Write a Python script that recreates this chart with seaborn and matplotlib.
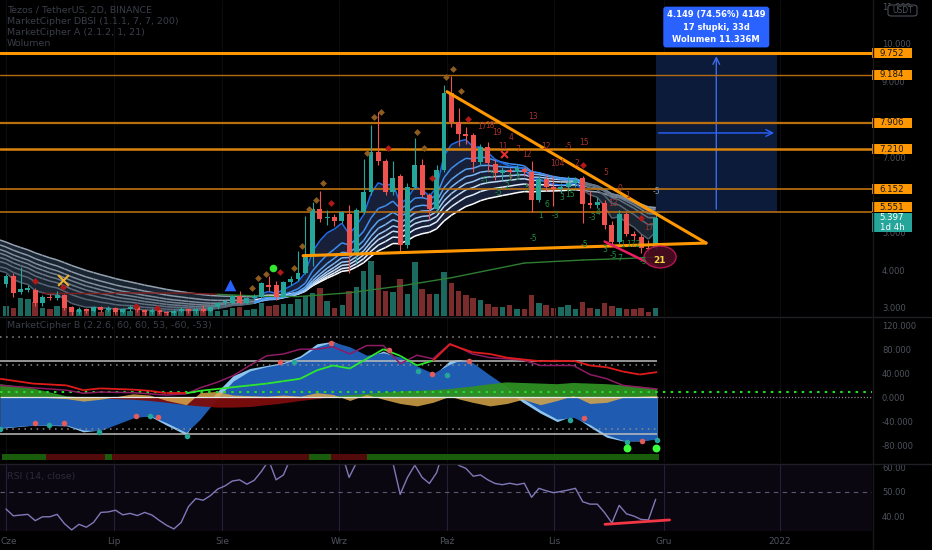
import numpy as np
import pandas as pd
import matplotlib
matplotlib.use("Agg")
import matplotlib.pyplot as plt
import seaborn as sns
from matplotlib.collections import LineCollection
from matplotlib.patches import Ellipse, Rectangle, FancyBboxPatch
from matplotlib.transforms import blended_transform_factory as blend

# ---------------- DATA ----------------
opens = [3.63, 3.85, 3.42, 3.48, 3.47, 3.13, 3.30, 3.25, 3.35, 3.02,
         2.88, 2.96, 2.92, 3.02, 2.95, 3.00, 2.90, 2.97, 3.03, 2.94,
         2.88, 2.95, 2.90, 2.86, 2.93, 2.98, 2.91, 2.96, 2.92, 3.02,
         3.12, 3.13, 3.32, 3.13, 3.27, 3.29, 3.62, 3.60, 3.29, 3.68,
         3.77, 3.93, 4.39, 5.62, 5.38, 5.40, 5.30, 5.50, 4.40, 5.55,
         6.07, 7.14, 6.90, 6.07, 6.50, 4.67, 6.20, 6.80, 6.00, 5.62,
         6.66, 8.70, 7.93, 7.60, 7.59, 6.87, 7.27, 6.82, 6.58, 6.65,
         6.60, 6.68, 6.60, 5.86, 6.43, 6.20, 6.15, 6.20, 6.30, 6.45,
         5.78, 5.74, 5.78, 5.20, 4.75, 5.50, 4.95, 4.88, 4.60, 4.60]
closes = [3.85, 3.40, 3.50, 3.52, 3.13, 3.30, 3.25, 3.35, 3.00, 2.88,
          2.96, 2.92, 3.02, 2.95, 3.00, 2.90, 2.97, 3.03, 2.94, 2.88,
          2.95, 2.90, 2.86, 2.93, 2.98, 2.91, 2.96, 2.92, 3.02, 3.12,
          3.18, 3.32, 3.13, 3.27, 3.32, 3.66, 3.56, 3.29, 3.68, 3.77,
          3.93, 4.40, 5.62, 5.36, 5.41, 5.30, 5.55, 4.40, 5.60, 6.07,
          7.14, 6.90, 6.07, 6.45, 4.67, 6.20, 6.80, 6.00, 5.62, 6.66,
          8.70, 7.93, 7.60, 7.55, 6.87, 7.27, 6.84, 6.58, 6.65, 6.60,
          6.70, 6.60, 5.86, 6.43, 6.20, 6.15, 6.22, 6.30, 6.40, 5.76,
          5.74, 5.80, 5.20, 4.75, 5.50, 4.95, 4.90, 4.60, 4.55, 5.397]
highs = [3.90, 3.92, 4.08, 3.60, 3.52, 3.35, 3.36, 3.45, 3.38, 3.05,
         3.02, 3.00, 3.06, 3.05, 3.04, 3.03, 3.00, 3.07, 3.05, 2.97,
         2.99, 2.98, 2.93, 2.96, 3.02, 3.00, 3.00, 3.08, 3.05, 3.15,
         3.22, 3.35, 3.45, 3.30, 3.36, 3.68, 3.85, 3.72, 3.72, 3.85,
         4.50, 5.45, 5.80, 6.10, 5.60, 5.48, 5.58, 5.73, 5.65, 6.95,
         7.85, 8.20, 6.95, 6.90, 6.55, 6.30, 7.50, 6.95, 6.05, 6.80,
         8.90, 9.15, 8.30, 7.80, 7.65, 7.35, 7.40, 6.95, 6.75, 6.70,
         6.78, 6.75, 6.90, 6.50, 6.55, 6.50, 6.30, 6.50, 6.48, 6.50,
         6.10, 5.95, 5.85, 5.30, 5.60, 5.55, 5.05, 4.95, 4.80, 5.55]
lows = [3.55, 3.30, 3.38, 3.42, 3.05, 3.05, 3.20, 3.20, 2.95, 2.82,
        2.84, 2.86, 2.88, 2.90, 2.90, 2.85, 2.86, 2.93, 2.88, 2.82,
        2.84, 2.85, 2.81, 2.82, 2.88, 2.86, 2.87, 2.88, 2.88, 2.98,
        3.08, 3.10, 3.10, 3.10, 3.22, 3.25, 3.45, 3.22, 3.25, 3.62,
        3.72, 3.90, 4.10, 5.28, 5.20, 5.18, 5.25, 3.93, 4.20, 5.50,
        6.00, 6.80, 6.00, 6.00, 4.46, 4.60, 6.15, 5.95, 5.35, 5.55,
        6.60, 7.80, 7.30, 7.35, 6.60, 6.80, 6.60, 6.40, 6.40, 6.45,
        6.50, 6.50, 5.55, 5.80, 6.10, 5.70, 6.05, 6.10, 6.20, 5.25,
        5.65, 5.65, 5.10, 4.65, 4.70, 4.90, 4.80, 4.46, 4.45, 4.55]
volumes_m = [10, 8, 18, 17, 14, 8, 7, 10, 12, 5,
             6, 5, 7, 4, 6, 5, 8, 5, 6, 4,
             7, 5, 6, 5, 6, 7, 5, 6, 6, 5,
             6, 8, 9, 6, 7, 13, 10, 11, 12, 12,
             17, 20, 23, 28, 15, 8, 11, 25, 29, 45,
             55, 41, 25, 24, 37, 22, 54, 27, 22, 22,
             44, 33, 25, 21, 18, 16, 12, 9, 9, 11,
             7, 7, 21, 13, 11, 8, 9, 11, 7, 14,
             8, 7, 13, 10, 8, 7, 7, 8, 4, 8]

# MarketCipher A ribbon: EMA lengths and their values at the left edge
ema_spans = [5, 11, 15, 18, 21, 24, 28, 34]
ema_seeds = [3.98, 4.09, 4.23, 4.34, 4.45, 4.55, 4.67, 4.80]

# slow trend line (DBSI)
ma_idx = [5, 15, 25, 29, 35, 40, 47, 54, 61, 71, 79, 85, 89]
ma_val = [3.40, 3.40, 3.39, 3.36, 3.31, 3.30, 3.40, 3.58, 3.80, 4.19, 4.27, 4.31, 4.35]
ma_state = ['r', 'r', 'r', 'r', 'g', 'g', 'g', 'g', 'g', 'g', 'g', 'g', 'g']

levels = [9.752, 9.184, 7.906, 7.210, 6.152, 5.551]
last_price = 5.397
last_countdown = "1d 4h"

tri_top_idx = [60.4, 95.9]
tri_top_price = [8.735, 4.72]
tri_base_idx = [40.7, 95.9]
tri_base_price = [4.385, 4.72]
div_idx = [82.0, 89.1]
div_price = [4.76, 4.09]

range_idx = [89.0, 105.6]
range_price = [5.551, 9.752]
range_lines = ["4.149 (74.56%) 4149", "17 słupki, 33d", "Wolumen 11.336M"]

red_num_idx = [72.2, 65.2, 66.3, 67.3, 69.2, 68.1, 70.1, 71.4, 74.0, 77.1, 79.2, 75.5, 78.2, 82.1, 84.1, 85.2, 83.2, 88.1]
red_num_price = [8.09, 7.80, 7.85, 7.64, 7.51, 7.27, 7.21, 7.08, 7.29, 7.27, 7.40, 6.82, 6.82, 6.58, 6.18, 5.99, 5.78, 5.12]
red_num_text = ["13", "17", "18", "19", "4", "11", "7", "12", "12", "-5", "15", "104", "2", "5", "0", "1", "13", "17"]
green_num_idx = [65.6, 66.6, 69.0, 68.6, 70.1, 67.4, 71.4, 74.1, 73.2, 75.2, 76.2, 77.3, 72.2, 79.2, 80.3, 81.1, 82.1, 83.2, 84.1, 84.5, 86.0, 87.3]
green_num_price = [6.39, 6.53, 6.42, 6.23, 6.47, 6.07, 6.18, 5.73, 5.44, 5.44, 5.94, 6.02, 4.85, 4.69, 5.41, 5.54, 4.56, 4.40, 4.32, 4.69, 4.69, 4.24]
green_num_text = ["-5", "5", "5", "2", "2", "-5", "5", "6", "1", "-3", "3", "15", "-5", "-5", "-3", "4", "3", "-5", "7", "1", "172", "-5"]
gray_num = ("-5", 89.1, 6.10)
signal_count = ("21", 89.2, 4.27)

brown_dia_idx = [33.7, 34.5, 35.6, 39.5, 40.5, 41.5, 42.5, 43.4, 49.5, 50.4, 51.4, 56.3, 57.3, 60.3, 61.2, 62.3]
brown_dia_price = [3.53, 3.79, 3.90, 4.06, 4.64, 5.62, 5.86, 6.31, 7.11, 8.06, 8.20, 7.67, 7.24, 9.12, 9.34, 8.75]
red_dia_idx = [4.0, 7.8, 17.8, 20.7, 37.5, 44.5, 52.3, 58.4, 63.3, 79.0, 87.0]
red_dia_price = [3.71, 3.55, 3.05, 3.00, 3.95, 5.78, 7.24, 6.45, 8.01, 6.79, 5.38]
buy_circle = (36.6, 4.06)
blue_triangle = (30.7, 3.61)
yellow_cross = (7.8, 3.74)
red_cross = (68.2, 7.08)

# MarketCipher B samples
osc_idx = [-0.8, 3.7, 8.3, 10.6, 12.9, 17.4, 19.7, 22.0, 24.7, 26.6, 28.9, 31.1, 33.4, 35.7, 38.0, 40.3, 42.6, 44.8, 47.1,
           49.4, 51.7, 54.0, 56.3, 58.5, 60.8, 62.2, 63.9, 66.3, 68.6, 70.8, 73.2, 75.5, 77.7, 80.0, 82.3, 84.5, 86.8, 89.2]
wt1 = [-51, -46, -47, -57, -54, -30, -31, -46, -62, -24, 9, 36, 48, 53, 58, 69, 89, 93, 80,
       66, 77, 64, 48, 36, 61, 63, 56, 31, 12, -8, -26, -40, -30, -49, -66, -72, -72, -68]
wt2 = [-50, -46, -46, -54, -55, -34, -30, -42, -58, -36, -2, 27, 44, 51, 56, 66, 84, 92, 84,
       70, 74, 67, 52, 40, 55, 62, 58, 37, 18, -2, -21, -36, -33, -45, -62, -71, -72, -69]
money_flow = [22, 15, 2, 0, -1, -3, -5, -8, -12, -14, -16, -16, -15, -12, -9, -5, -2, 2, 4,
              6, 8, 10, 11, 12, 14, 16, 18, 22, 25, 24, 23, 22, 24, 23, 22, 20, 18, 14]
vwap = [0, 1, -2, -6, -3, 6, 4, -5, -12, 8, 10, 4, 3, 2, 4, 2, 8, 5, -5,
        5, -3, -10, -14, -8, 2, -3, -8, -14, -10, -3, -12, -5, 3, -10, -8, 0, 2, 3]
stoch_k = [31, 23, 20, 12, 15, 13, 11, 7, 7, 11, 14, 17, 20, 23, 27, 31, 45, 53, 48,
           64, 80, 69, 53, 61, 88, 82, 75, 72, 66, 63, 60, 61, 61, 53, 50, 43, 38, 42]
stoch_state = ['r'] * 9 + ['g'] * 15 + ['r'] * 14
stoch_d = [20, 16, 12, 7, 9, 8, 6, 4, 6, 16, 25, 36, 53, 69, 72, 80, 80, 84, 72,
           86, 86, 56, 70, 64, 89, 82, 72, 66, 64, 62, 53, 53, 53, 38, 31, 20, 17, 14]
red_dot_idx = [4.0, 7.9, 17.8, 20.8, 37.5, 44.5, 52.5, 58.4, 63.4, 79.2, 87.1]
red_dot_val = [-43, -43, -30, -32, 58, 90, 78, 39, 60, -34, -72]
green_dot_idx = [-0.8, 5.9, 12.7, 19.7, 24.8, 39.5, 56.4, 60.4, 77.3, 85.1, 89.2]
green_dot_val = [-53, -46, -57, -31, -64, 58, 44, 38, -38, -74, -71]
big_dot_idx = [85.1, 89.0]
big_dot_val = [-83, -83]
strip_state = list("gggggg" "rrrrrrrr" "g" "rrrrrrrrrrrrrrrrrrrrrrrrrrr" "ggg" "rrrrr"
                   "gggggggggggggggggggggggggggggggggggggggg")

rsi = [43.0, 40.2, 40.5, 40.8, 38.2, 39.8, 39.8, 40.8, 37.0, 34.4,
       36.7, 35.5, 37.5, 41.6, 41.8, 42.5, 40.6, 41.2, 40.3, 41.6,
       40.5, 38.3, 36.3, 34.8, 37.5, 44.0, 47.3, 46.6, 48.5, 51.2,
       52.5, 54.5, 55.0, 53.2, 54.8, 58.5, 63.0, 55.0, 57.0, 64.0,
       66.0, 70.0, 78.0, 73.0, 72.0, 68.0, 66.0, 56.0, 62.0, 66.0,
       72.0, 69.0, 64.0, 62.0, 49.0, 56.0, 61.0, 56.0, 53.5, 58.0,
       68.0, 66.0, 61.0, 59.7, 56.5, 57.0, 55.0, 53.5, 53.0, 53.6,
       53.0, 53.6, 47.8, 51.5, 50.5, 49.7, 50.2, 50.8, 51.5, 46.0,
       45.0, 45.0, 41.5, 37.3, 44.5, 41.0, 40.1, 38.7, 38.5, 47.0]
rsi_div_idx = [82.05, 90.9]
rsi_div_val = [36.7, 38.5]

month_labels = ["Cze", "Lip", "Sie", "Wrz", "Paź", "Lis", "Gru", "2022"]
month_idx = [0.0, 14.8, 29.6, 45.6, 60.4, 75.1, 90.1, 106.0]

price_ticks = [3, 4, 5, 7, 9, 10, 11]
osc_ticks = [120, 80, 40, 0, -40, -80]
rsi_ticks = [40, 50, 60]

# ---------------- FIGURE ----------------
sns.set_theme(style="dark")
plt.rcParams['font.family'] = ['DejaVu Sans']
plt.rcParams['axes.unicode_minus'] = False

W, H = 932, 550
fig = plt.figure(figsize=(W / 100, H / 100), dpi=100, facecolor='black')


def rect(x0, y0, x1, y1):
    return [x0 / W, 1 - y1 / H, (x1 - x0) / W, (y1 - y0) / H]


ax = fig.add_axes(rect(0, 0, 872, 316))
axv = ax.twinx()
axo = fig.add_axes(rect(0, 317, 872, 463))
axr = fig.add_axes(rect(0, 465, 872, 531))

XMIN, XMAX = -0.82, 118.63
AXC = '#4f535d'
for a in (ax, axo, axr):
    a.set_facecolor('black')
    a.set_xlim(XMIN, XMAX)
    for s in a.spines.values():
        s.set_visible(False)
    a.grid(False)
    a.tick_params(axis='x', length=0, labelbottom=False)
    a.yaxis.tick_right()
    a.tick_params(axis='y', length=0, pad=7.2, labelsize=6, labelcolor=AXC)

# volume behind price
axv.set_zorder(ax.get_zorder() - 1)
ax.patch.set_visible(False)
axv.set_facecolor('black')
axv.set_xlim(XMIN, XMAX)
axv.set_ylim(0, 316)
axv.set_yticks([])
for s in axv.spines.values():
    s.set_visible(False)
axv.grid(False)

idx = np.arange(len(closes))
o = np.array(opens); c = np.array(closes); hi = np.array(highs); lo = np.array(lows)
up = c >= o
vcol = np.where(up, '#1c6a5f', '#7a2b2b')
axv.bar(idx, volumes_m, width=0.75, color=vcol, linewidth=0)

# month grid
for m in month_idx:
    for a, colr in ((ax, '#0c0c10'), (axo, '#0c0c10'), (axr, '#1d1a2b')):
        a.axvline(m, color=colr, lw=0.8, zorder=0)

# ---- price pane ----
ax.set_ylim(2.785, 11.167)
ax.set_yticks(price_ticks)
ax.set_yticklabels([f"{v:.3f}" for v in price_ticks])

# ribbon
emas = []
for span, seed in zip(ema_spans, ema_seeds):
    a = 2.0 / (span + 1)
    v = seed
    out = [seed]
    for cc in c:
        v = v + a * (cc - v)
        out.append(v)
    emas.append(np.array(out))
xl = np.concatenate([[XMIN], idx])
bull = emas[0] > emas[-1]
ax.fill_between(xl, emas[0], emas[-1], where=bull, interpolate=True, color='#172038', lw=0, zorder=1)
ax.fill_between(xl, emas[0], emas[-1], where=~bull, interpolate=True, color='#1b2531', lw=0, zorder=1)
bull_cols = ['#1e6ee8', '#3d8ef0', '#5aa2f2', '#7db6f4', '#a0c9f6', '#c2dcf8', '#e0edfb', '#ffffff']
bear_cols = ['#4f5d6e', '#586677', '#617080', '#6b7a8a', '#758494', '#7f8e9e', '#8a98a8', '#95a2b2']
for k in range(len(emas) - 1, -1, -1):
    e = emas[k]
    segs = [[(xl[j], e[j]), (xl[j + 1], e[j + 1])] for j in range(len(xl) - 1)]
    cols = [bull_cols[k] if bull[j + 1] else bear_cols[k] for j in range(len(xl) - 1)]
    ax.add_collection(LineCollection(segs, colors=cols, linewidths=1.1, zorder=2))

# slow trend line
for j in range(len(ma_idx) - 1):
    ax.plot(ma_idx[j:j + 2], ma_val[j:j + 2], color='#2e7d32' if ma_state[j + 1] == 'g' else '#7b1f1f',
            lw=1.0, zorder=2)

# levels
lvl_w = [2.2, 1.0, 1.6, 1.8, 1.2, 1.2]
lvl_c = ['#ff9800', '#b36b12', '#b8700f', '#d9850b', '#bf740e', '#b36b12']

# date/price range box
ax.add_patch(Rectangle((range_idx[0], range_price[0]), range_idx[1] - range_idx[0],
                       range_price[1] - range_price[0], fc='#0d1b3b', ec='none', zorder=0.5))
midx = (range_idx[0] + range_idx[1]) / 2
ax.annotate('', xy=(midx, range_price[1]), xytext=(midx, range_price[0]),
            arrowprops=dict(arrowstyle='->', color='#3d6be8', lw=1.0), zorder=3)
ax.annotate('', xy=(range_idx[1], 7.64), xytext=(range_idx[0], 7.64),
            arrowprops=dict(arrowstyle='->', color='#2962ff', lw=1.0), zorder=3)
ax.text(midx, 10.45, "\n".join(range_lines), ha='center', va='center', fontsize=6, color='white',
        fontweight='bold', linespacing=1.45, zorder=12,
        bbox=dict(boxstyle='round,pad=0.45,rounding_size=0.35', fc='#2962ff', ec='none'))

for lv, lw_, lc in zip(levels, lvl_w, lvl_c):
    ax.axhline(lv, color=lc, lw=lw_, zorder=3)

# candles
ccol = np.where(up, '#26a69a', '#ef5350')
ax.vlines(idx, lo, hi, colors=ccol, lw=0.8, zorder=4)
ax.bar(idx, np.maximum(np.abs(c - o), 0.025), bottom=np.minimum(o, c), width=0.68, color=ccol,
       linewidth=0, zorder=5)

# trendlines
ax.plot(tri_top_idx, tri_top_price, color='#ff9800', lw=2.2, zorder=6, solid_capstyle='round')
ax.plot(tri_base_idx, tri_base_price, color='#ff9800', lw=2.2, zorder=6, solid_capstyle='round')
ax.plot(div_idx, div_price, color='#e91e63', lw=1.8, zorder=6)

# signals
ax.scatter(brown_dia_idx, brown_dia_price, marker='D', s=12, color='#8d5c1e', zorder=7, linewidths=0)
ax.scatter(red_dia_idx, red_dia_price, marker='D', s=12, color='#b31818', zorder=7, linewidths=0)
ax.scatter([buy_circle[0]], [buy_circle[1]], marker='o', s=30, color='#32e632', zorder=7, linewidths=0)
ax.scatter([blue_triangle[0]], [blue_triangle[1]], marker='^', s=70, color='#2962ff', zorder=7, linewidths=0)
ax.scatter([yellow_cross[0]], [yellow_cross[1]], marker='x', s=60, color='#f0b030', zorder=7, linewidths=1.5)
ax.scatter([red_cross[0]], [red_cross[1]], marker='x', s=25, color='#e03030', zorder=7, linewidths=1.5)
for t, xi, yp in zip(red_num_text, red_num_idx, red_num_price):
    ax.text(xi, yp, t, color='#a8322d', fontsize=5.5, ha='center', va='center', zorder=8)
for t, xi, yp in zip(green_num_text, green_num_idx, green_num_price):
    ax.text(xi, yp, t, color='#1f8f43', fontsize=5.5, ha='center', va='center', zorder=8)
ax.text(gray_num[1], gray_num[2], gray_num[0], color='#9a9a9a', fontsize=5.5, ha='center', va='center', zorder=8)
ax.add_patch(Ellipse((89.6, 4.35), 4.4, 0.58, fc='#4b0d22', ec='#c2185b', lw=1, alpha=0.9, zorder=6.5))
ax.text(signal_count[1] + 0.3, signal_count[2], signal_count[0], color='#f5d742', fontsize=6.5,
        fontweight='bold', ha='center', va='center', zorder=8)

# price tags
tr = blend(ax.transAxes, ax.transData)
ppx = (11.167 - 2.785) / 316.0
for lv in levels:
    yc = lv + (4.4 * ppx if lv == 5.551 else 0)
    ax.add_patch(Rectangle((1.0, yc - 5 * ppx), 40 / 872, 10 * ppx, transform=tr, clip_on=False,
                           fc='#ff9800', ec='none', zorder=10))
    ax.text(1.0 + 20 / 872, yc, f"{lv:.3f}", transform=tr, clip_on=False, ha='center', va='center',
            fontsize=6.2, color='#131722', zorder=11)
ytop = last_price + 4.7 * ppx
ax.add_patch(Rectangle((1.0, ytop - 19.5 * ppx), 40 / 872, 19.5 * ppx, transform=tr, clip_on=False,
                       fc='#26a69a', ec='none', zorder=10))
ax.text(1.0 + 20 / 872, ytop - 5 * ppx, f"{last_price:.3f}", transform=tr, clip_on=False, ha='center',
        va='center', fontsize=6.2, color='white', zorder=11)
ax.text(1.0 + 20 / 872, ytop - 14.5 * ppx, last_countdown, transform=tr, clip_on=False, ha='center',
        va='center', fontsize=6.2, color='white', zorder=11)

# ---- MarketCipher B ----
axo.set_ylim(-108.6, 133.3)
axo.set_yticks(osc_ticks)
axo.set_yticklabels([f"{v:.3f}" for v in osc_ticks])
oi = np.array(osc_idx)
axo.fill_between(oi, 0, wt1, color='#8cc4ef', lw=0, zorder=1)
axo.fill_between(oi, 0, wt2, color='#1f5bb0', lw=0, zorder=2)
mf = np.array(money_flow, dtype=float)
axo.fill_between(oi, 0, mf, where=mf >= 0, interpolate=True, color='#2f8f23', alpha=0.95, lw=0, zorder=3)
axo.fill_between(oi, 0, mf, where=mf < 0, interpolate=True, color='#7d0c0c', alpha=0.95, lw=0, zorder=3)
axo.fill_between(oi, 0, vwap, color='#d6a64a', alpha=0.85, lw=0, zorder=4)
dend = osc_idx[-1]
for lv, st, colr in ((100, (0, (1, 3)), '#8c8c8c'), (53, (0, (1, 3)), '#8c8c8c'), (-53, (0, (1, 3)), '#8c8c8c'),
                     (60, '-', '#bdbdbd'), (-60, '-', '#bdbdbd')):
    axo.hlines(lv, XMIN, dend, colors=colr, linestyles=st, lw=1.1, zorder=5)
axo.hlines(0, XMIN, dend, colors='#e6e6e6', lw=0.9, zorder=5)
axo.hlines(0, dend, XMAX, colors='#8a8a8a', linestyles=(0, (1, 1.5)), lw=0.9, zorder=5)
axo.hlines(9, XMIN, XMAX, colors='#22dd22', linestyles=(0, (1.2, 2.5)), lw=1.5, zorder=5)
sv = np.array(stoch_k, dtype=float)
segs = [[(oi[j], sv[j]), (oi[j + 1], sv[j + 1])] for j in range(len(oi) - 1)]
cols = ['#2ee62e' if stoch_state[j + 1] == 'g' else '#e01b1b' for j in range(len(oi) - 1)]
axo.add_collection(LineCollection(segs, colors=cols, linewidths=1.3, zorder=7))
sns.lineplot(x=oi, y=stoch_d, ax=axo, color='#8e1c64', lw=1.1, zorder=6, legend=False)
axo.scatter(red_dot_idx, red_dot_val, s=16, color='#e35b5b', zorder=8, linewidths=0)
axo.scatter(green_dot_idx, green_dot_val, s=16, color='#26a69a', zorder=8, linewidths=0)
axo.scatter(big_dot_idx, big_dot_val, s=32, color='#3cff3c', zorder=8, linewidths=0)
scol = ['#185c0c' if s == 'g' else '#520a0a' for s in strip_state]
axo.bar(idx, -10, bottom=-94, width=1.0, color=scol, linewidth=0, zorder=5)
axo.set_xlabel(''); axo.set_ylabel('')

# ---- RSI ----
axr.set_ylim(33.95, 61.1)
axr.set_yticks(rsi_ticks)
axr.set_yticklabels([f"{v:.2f}" for v in rsi_ticks])
axr.axhspan(30, 70, color='#7e57c2', alpha=0.09, lw=0, zorder=0)
axr.axhline(50, color='#5d5a70', ls=(0, (4, 4)), lw=0.8, zorder=1)
sns.lineplot(x=idx, y=rsi, ax=axr, color='#8079b8', lw=1.0, zorder=3, legend=False)
axr.plot(rsi_div_idx, rsi_div_val, color='#f23645', lw=2, zorder=4)
axr.set_xlabel(''); axr.set_ylabel('')
axr.set_xticks([m + (0.35 if m == 0 else 0) for m in month_idx])
axr.set_xticklabels(month_labels)
axr.tick_params(axis='x', labelbottom=True, pad=4, labelsize=6.5, labelcolor=AXC, length=0)
axr.set_xlim(XMIN, XMAX)
axo.set_xlim(XMIN, XMAX)
ax.set_xlim(XMIN, XMAX)

# ---- figure-level texts / separators ----
TXT = '#3a3e48'
for y, t in ((10, "Tezos / TetherUS, 2D, BINANCE"), (21.5, "MarketCipher DBSI (1.1.1, 7, 7, 200)"),
             (32.5, "MarketCipher A (2.1.2, 1, 21)"), (43.5, "Wolumen")):
    fig.text(7 / W, 1 - y / H, t, color=TXT, fontsize=6.8, va='center', ha='left')
fig.text(7 / W, 1 - 325 / H, "MarketCipher B (2.2.6, 60, 60, 53, -60, -53)", color=TXT, fontsize=6.8,
         va='center', ha='left')
fig.text(7 / W, 1 - 477 / H, "RSI (14, close)", color='#2c2a3a', fontsize=6.8, va='center', ha='left')

fig.add_artist(FancyBboxPatch((888 / W, 1 - 16 / H), 29 / W, 11 / H, boxstyle='round,pad=0,rounding_size=0.004',
                              transform=fig.transFigure, fc='black', ec='#4a4e58', lw=0.8))
fig.text(902.5 / W, 1 - 10.5 / H, "USDT", color='#50545e', fontsize=5.5, ha='center', va='center')

for y in (316.5, 464.0):
    fig.add_artist(plt.Line2D([0, 1], [1 - y / H, 1 - y / H], transform=fig.transFigure, color='#1f1f26', lw=1))
fig.add_artist(plt.Line2D([872.5 / W, 872.5 / W], [0, 1], transform=fig.transFigure, color='#18181e', lw=1))

fig.savefig('out.png', dpi=100, facecolor='black')
